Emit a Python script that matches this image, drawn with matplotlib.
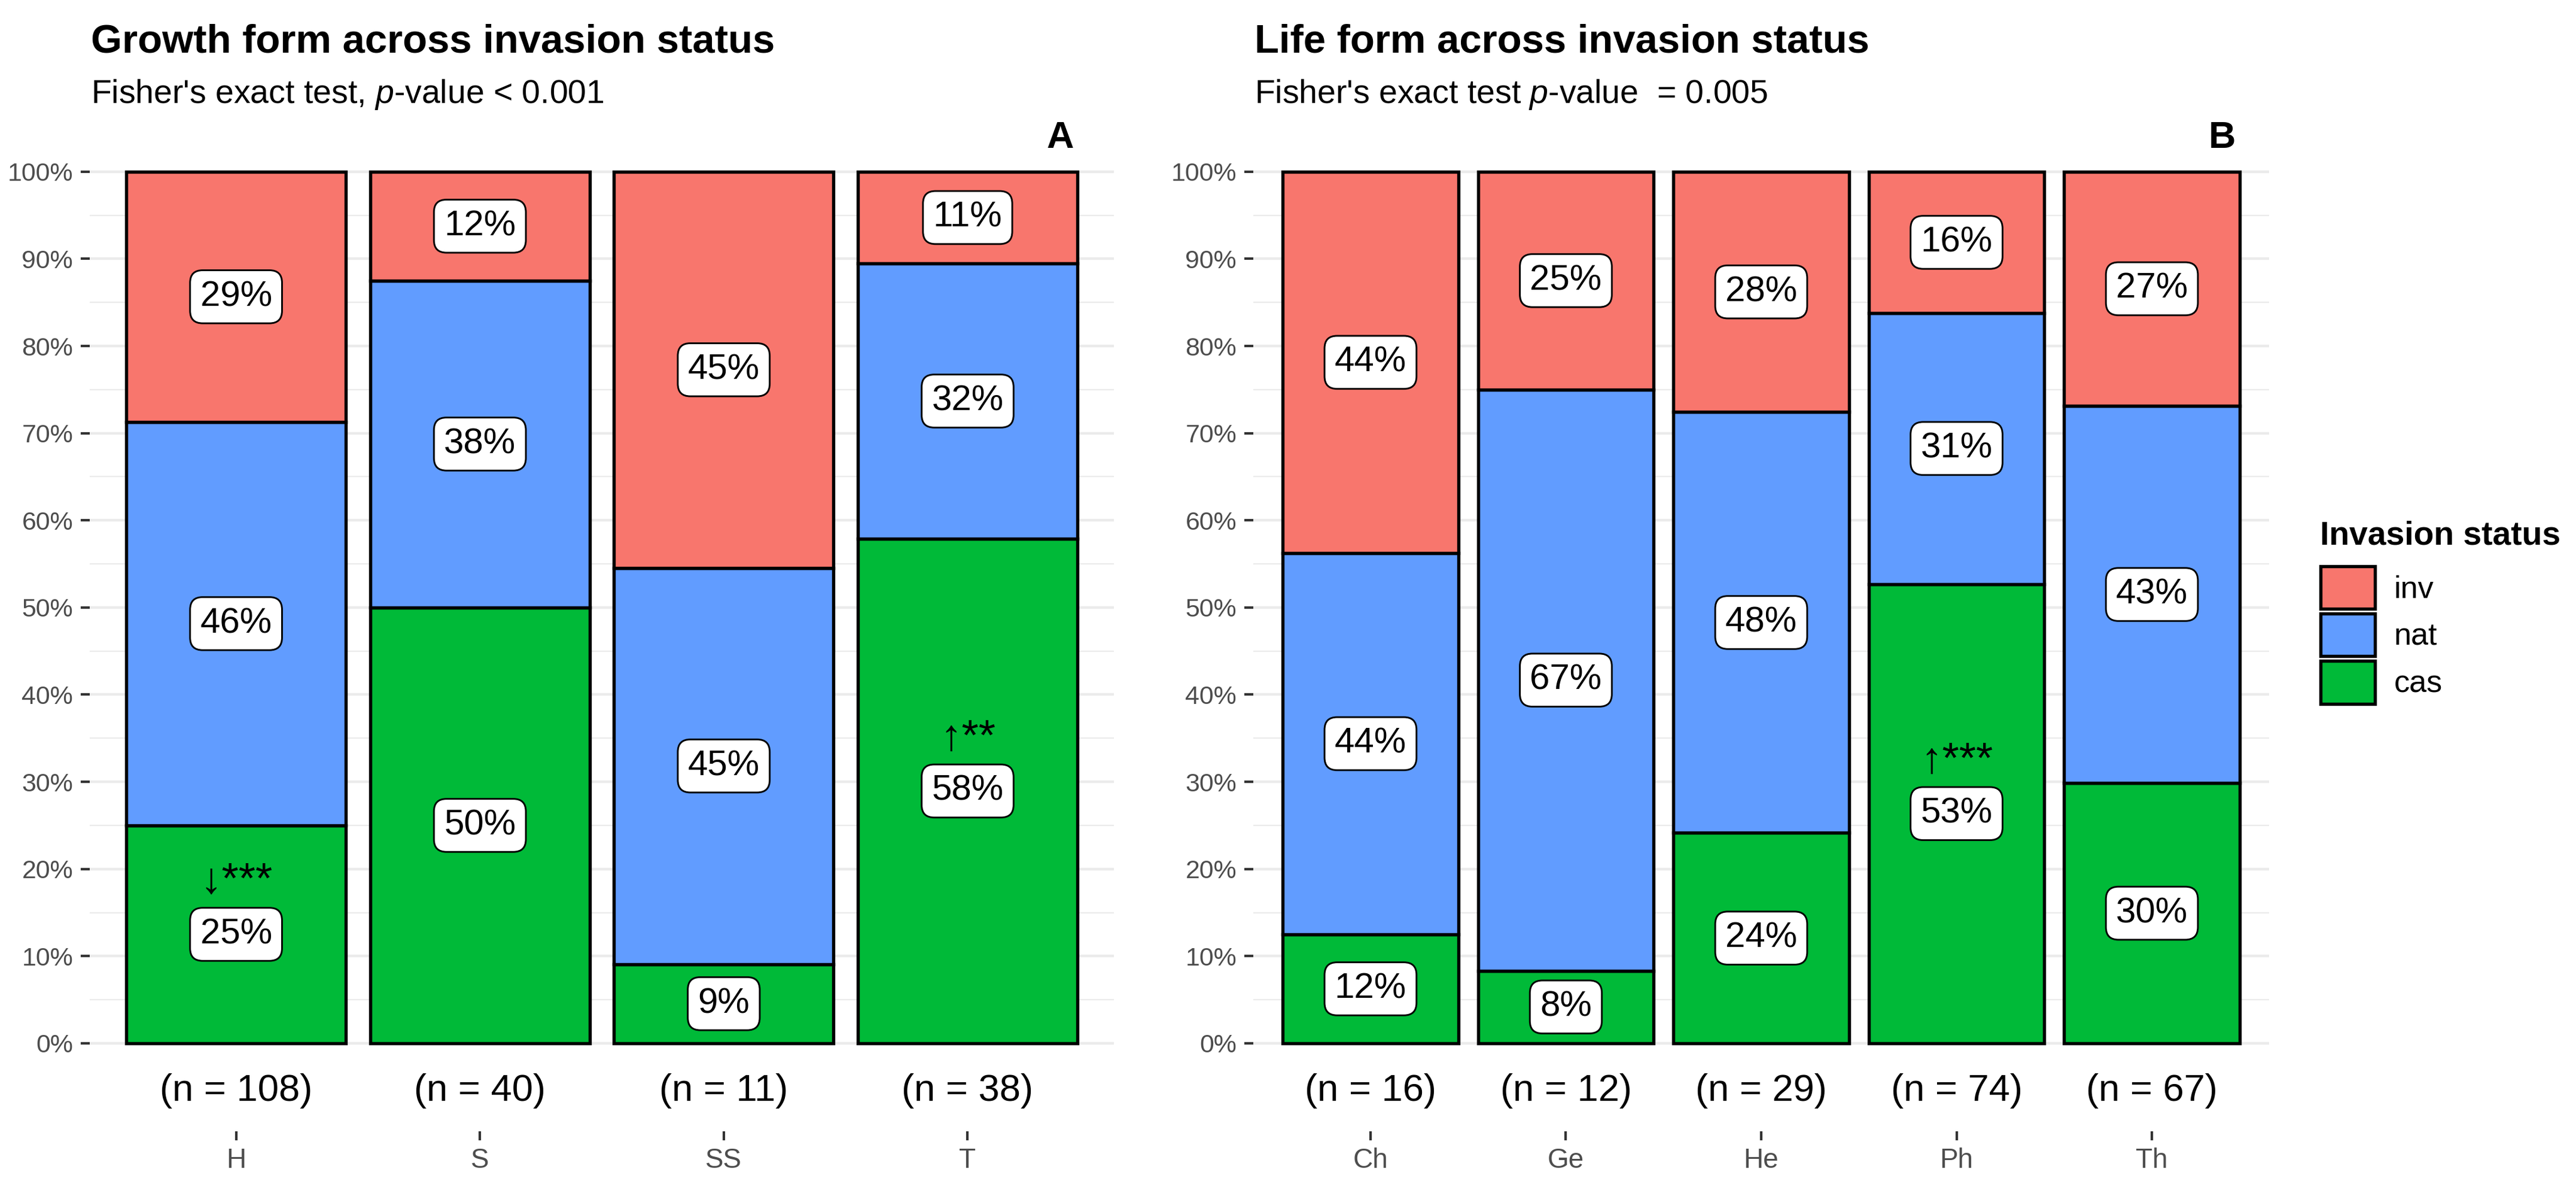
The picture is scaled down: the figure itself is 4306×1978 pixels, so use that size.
import numpy as np
import matplotlib
matplotlib.use("Agg")
import matplotlib.pyplot as plt
from matplotlib.patches import Patch

# ---------------- data ----------------
status_labels = ["inv", "nat", "cas"]
status_colors = {"inv": "#F8766D", "nat": "#619CFF", "cas": "#00BA38"}

growth_forms = ["H", "S", "SS", "T"]
growth_cas = [27, 20, 1, 22]
growth_nat = [50, 15, 5, 12]
growth_inv = [31, 5, 5, 4]
growth_sig = ["\u2193***", "", "", "\u2191**"]

life_forms = ["Ch", "Ge", "He", "Ph", "Th"]
life_cas = [2, 1, 7, 39, 20]
life_nat = [7, 8, 14, 23, 29]
life_inv = [7, 3, 8, 12, 18]
life_sig = ["", "", "", "\u2191***", ""]

titles = ["Growth form across invasion status", "Life form across invasion status"]
subtitles = [r"Fisher's exact test, $\mathit{p}$-value < 0.001",
             r"Fisher's exact test $\mathit{p}$-value  = 0.005"]
tags = ["A", "B"]

# ---------------- style ----------------
plt.rcParams["font.family"] = ["Liberation Sans", "DejaVu Sans"]
plt.rcParams["mathtext.fontset"] = "custom"
plt.rcParams["mathtext.rm"] = "Liberation Sans"
plt.rcParams["mathtext.it"] = "Liberation Sans:italic"
plt.rcParams["mathtext.bf"] = "Liberation Sans:bold"

W, H = 4306, 1978
DPI = 300
fig = plt.figure(figsize=(W / DPI, H / DPI), dpi=DPI)

def fx(px):
    return px / W

def fy(py):
    return 1 - py / H

Y_BOT, Y_TOP = -0.101, 1.050
ax_top_px, ax_bot_px = 214, 1890

panels = [
    dict(left=150, right=1862, forms=growth_forms, cas=growth_cas, nat=growth_nat,
         inv=growth_inv, sig=growth_sig, tagx=4.38),
    dict(left=2095, right=3793, forms=life_forms, cas=life_cas, nat=life_nat,
         inv=life_inv, sig=life_sig, tagx=5.36),
]

for i, p in enumerate(panels):
    ax = fig.add_axes([fx(p["left"]), fy(ax_bot_px), fx(p["right"] - p["left"]),
                       (ax_bot_px - ax_top_px) / H])
    n_cat = len(p["forms"])
    x = np.arange(1, n_cat + 1)
    cas = np.array(p["cas"], float)
    nat = np.array(p["nat"], float)
    inv = np.array(p["inv"], float)
    n = cas + nat + inv
    fr = {"cas": cas / n, "nat": nat / n, "inv": inv / n}

    bottom = np.zeros(n_cat)
    for s in ["cas", "nat", "inv"]:
        ax.bar(x, fr[s], width=0.9, bottom=bottom, color=status_colors[s],
               edgecolor="black", linewidth=1.3, zorder=2)
        for j in range(n_cat):
            cy = bottom[j] + fr[s][j] / 2
            ax.text(x[j], cy, f"{round(fr[s][j] * 100)}%", ha="center", va="center",
                    fontsize=14.4, color="black", zorder=4,
                    bbox=dict(boxstyle="round,pad=0.28,rounding_size=0.35",
                              fc="white", ec="black", lw=0.7))
            if s == "cas" and p["sig"][j]:
                ax.text(x[j], cy + 0.06, p["sig"][j], ha="center", va="center",
                        fontsize=17.5, color="black", zorder=4)
        bottom = bottom + fr[s]

    for j in range(n_cat):
        ax.text(x[j], -0.066, f"(n = {int(n[j])})", ha="center", va="baseline",
                fontsize=15.2, color="black")

    ax.set_xlim(0.4, n_cat + 0.6)
    ax.set_ylim(Y_BOT, Y_TOP)
    ax.set_yticks(np.arange(0, 1.001, 0.1))
    ax.set_yticklabels([f"{k}%" for k in range(0, 101, 10)])
    ax.set_yticks(np.arange(0.05, 1.0, 0.1), minor=True)
    ax.set_xticks(x)
    ax.set_xticklabels(p["forms"])
    for sp in ax.spines.values():
        sp.set_visible(False)
    ax.tick_params(axis="y", which="major", length=3.6, width=1.0, color="#333333",
                   labelcolor="#4D4D4D", labelsize=10.3, pad=3.1)
    ax.tick_params(axis="y", which="minor", length=0)
    ax.tick_params(axis="x", which="major", length=3.6, width=1.0, color="#333333",
                   labelcolor="#4D4D4D", labelsize=11, pad=2.9)
    ax.grid(axis="y", which="major", color="#EBEBEB", linewidth=1.07, zorder=0)
    ax.grid(axis="y", which="minor", color="#EBEBEB", linewidth=0.55, zorder=0)
    ax.grid(axis="x", visible=False)
    ax.set_axisbelow(True)

    ax.text(p["tagx"], 1.027, tags[i], ha="center", va="baseline", fontsize=15.1,
            fontweight="bold", clip_on=False)

    tx = p["left"] + 2
    fig.text(fx(tx), fy(87), titles[i], ha="left", va="baseline", fontsize=16.1,
             fontweight="bold")
    fig.text(fx(tx), fy(172), subtitles[i], ha="left", va="baseline", fontsize=13.3)

# ---------------- legend ----------------
fig.text(fx(3878), fy(910), "Invasion status", ha="left", va="baseline",
         fontsize=13.25, fontweight="bold")
handles = [Patch(facecolor=status_colors[s], edgecolor="black", linewidth=1.3, label=s)
           for s in status_labels]
fig.legend(handles=handles, loc="upper left", bbox_to_anchor=(fx(3879), fy(946)),
           frameon=False, fontsize=12.5, handlelength=1.75, handleheight=1.73,
           labelspacing=0.15, handletextpad=0.6, borderpad=0, borderaxespad=0)

fig.savefig("out.png", dpi=DPI, facecolor="white")
